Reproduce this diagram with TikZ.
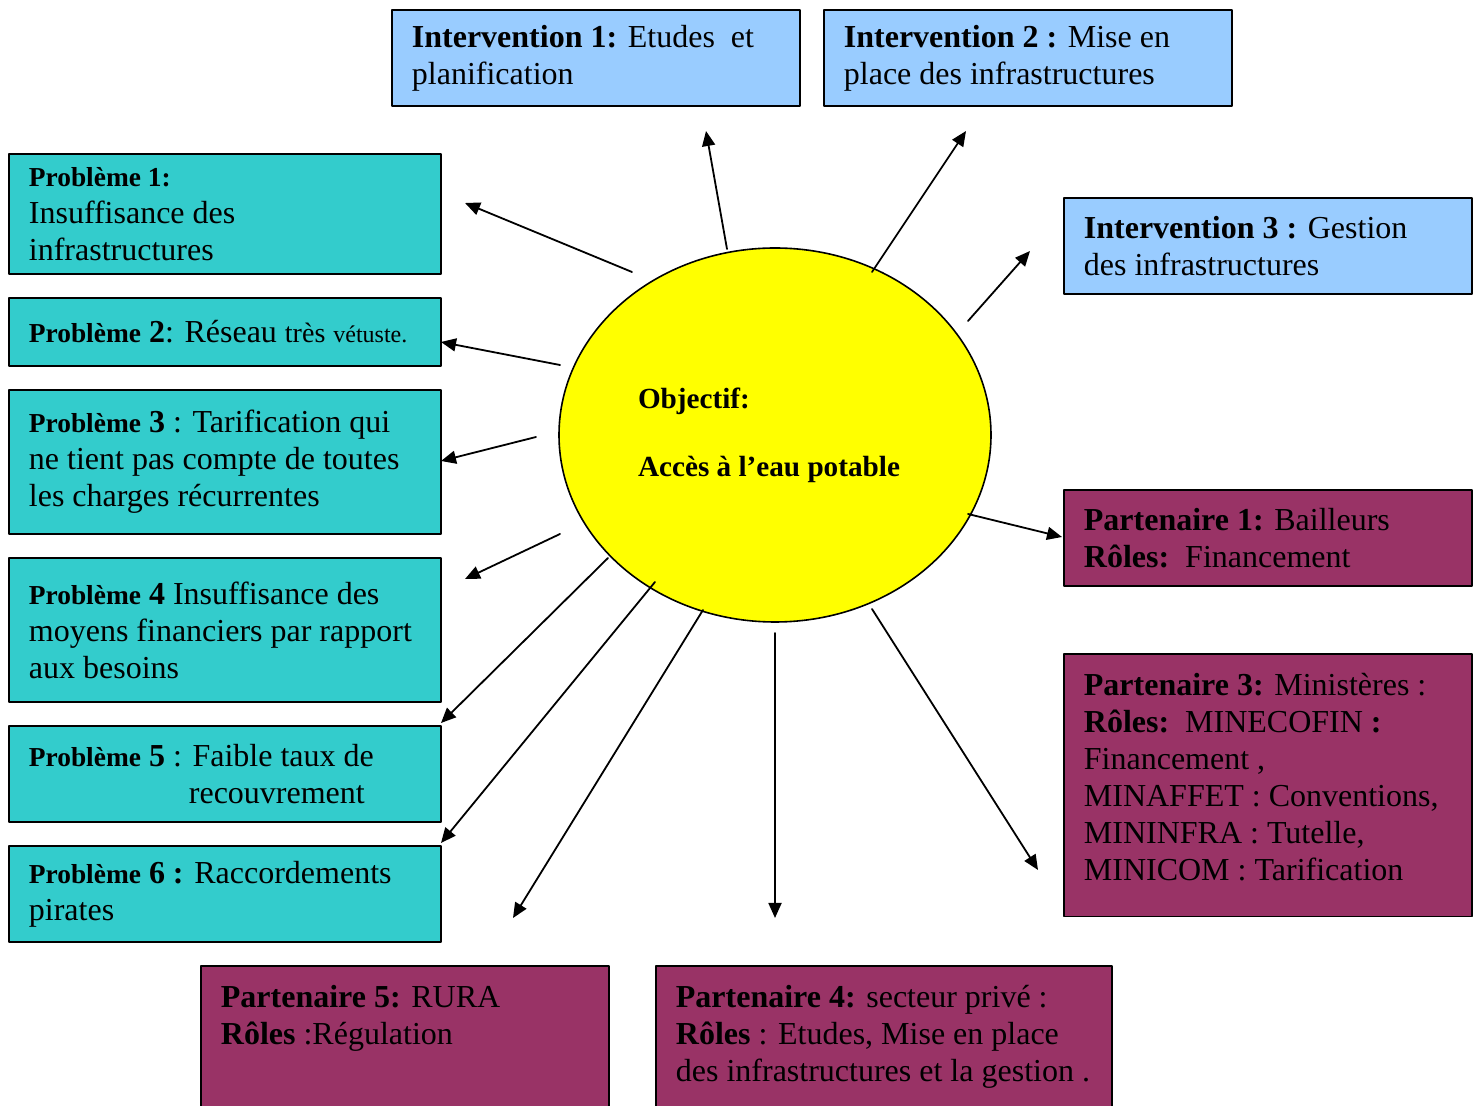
\documentclass[tikz,border=0pt]{standalone}
\usepackage{fontspec}
\setmainfont{Liberation Serif}
\usetikzlibrary{arrows.meta}
\usetikzlibrary{shapes.geometric}
\definecolor{probcol}{HTML}{33CCCC}
\definecolor{intcol}{HTML}{99CCFF}
\definecolor{partcol}{HTML}{993366}
\definecolor{objcol}{HTML}{FFFF00}
\newcommand{\txtsize}{\fontsize{16}{18.5}\selectfont}
\newcommand{\lblsize}{\fontsize{13.7}{18.5}\selectfont}
\newcommand{\pb}[1]{{\lblsize\bfseries Problème} {\bfseries #1}}
\tikzset{>={Triangle[length=7.5pt,width=6.5pt]}}
\tikzset{
  box/.style={draw, line width=0.9pt, anchor=north west, align=flush left, inner xsep=10pt, inner ysep=0pt, font=\txtsize},
  probbox/.style={box, fill=probcol, text width=196pt},
  intbox/.style={box, fill=intcol, text width=184pt},
  partbox/.style={box, fill=partcol, text width=184pt},
  arr/.style={->, line width=0.9pt}
}

\begin{document}
\begin{tikzpicture}[x=0.5pt, y=-0.5pt, line cap=round, line join=round]

\useasboundingbox (0,0) rectangle (1480,1106);
\clip (0,0) rectangle (1480,1106);

\node[draw, ellipse, fill=objcol, line width=0.8pt, minimum width=216pt, minimum height=187pt] (obj) at (775,435) {};
\node[align=flush left, font=\fontsize{14.6}{18.5}\selectfont\bfseries, xshift=-3pt] (objtxt) at (obj.center) {Objectif:\\[15.5pt]Accès à l’eau potable};

\node[probbox, minimum height=60pt] (p1) at (8,153) {{\lblsize\bfseries Problème 1:}\\Insuffisance des\\infrastructures};
\node[probbox, minimum height=34pt] (p2) at (8,297) {\pb{2}: Réseau {\fontsize{14}{18.5}\selectfont très} {\fontsize{12}{18.5}\selectfont vétuste.}};
\node[probbox, minimum height=72pt] (p3) at (8,389) {\pb{3} : Tarification qui\\ne tient pas compte de toutes\\les charges récurrentes};
\node[probbox, minimum height=72pt] (p4) at (8,557) {\pb{4} Insuffisance des\\moyens financiers par rapport\\aux besoins};
\node[probbox, minimum height=48pt] (p5) at (8,725) {\pb{5} : Faible taux de\\\hspace*{80pt}recouvrement};
\node[probbox, minimum height=48pt] (p6) at (8,845) {\pb{6 :} Raccordements\\pirates};

\node[intbox, minimum height=48pt] (i1) at (391,9) {\textbf{Intervention 1:} Etudes\ \ et\\planification};
\node[intbox, minimum height=48pt] (i2) at (823,9) {\textbf{Intervention 2 :} Mise en\\place des infrastructures};
\node[intbox, minimum height=48pt] (i3) at (1063,197) {\textbf{Intervention 3 :} Gestion\\des infrastructures};

\node[partbox, minimum height=48pt] (pa1) at (1063,489) {\textbf{Partenaire 1:} Bailleurs\\\textbf{Rôles:}\ \ Financement};
\node[partbox, inner ysep=9.6pt, text depth=101pt] (pa3) at (1063,653) {\textbf{Partenaire 3:} Ministères :\\\textbf{Rôles:}\ \ MINECOFIN \textbf{:}\\Financement ,\\MINAFFET : Conventions,\\MININFRA : Tutelle,\\MINICOM : Tarification};
\node[partbox, inner ysep=9.6pt, text depth=100pt] (pa5) at (200,965) {\textbf{Partenaire 5:} RURA\\\textbf{Rôles} :Régulation};
\node[partbox, text width=208pt, inner ysep=9.6pt, text depth=80pt] (pa4) at (655,965) {\textbf{Partenaire 4:} secteur privé :\\\textbf{Rôles} : Etudes, Mise en place\\des infrastructures et la gestion .};

\coordinate (t1) at (632,272);  \coordinate (h1) at (465,203);
\coordinate (t2) at (560,365);  \coordinate (h2) at (441,342);
\coordinate (t3) at (536,437);  \coordinate (h3) at (441,461);
\coordinate (t4) at (560,534);  \coordinate (h4) at (465,579);
\coordinate (t5) at (608,558);  \coordinate (h5) at (441,723);
\coordinate (t6) at (655,582);  \coordinate (h6) at (441,843);
\coordinate (t7) at (703,610);  \coordinate (h7) at (513,918);
\coordinate (t8) at (775,633);  \coordinate (h8) at (775,918);
\coordinate (t9) at (872,609);  \coordinate (h9) at (1038,870);
\coordinate (t10) at (968,514); \coordinate (h10) at (1062,537);
\coordinate (t11) at (968,321); \coordinate (h11) at (1030,251);
\coordinate (t12) at (872,272); \coordinate (h12) at (966,131);
\coordinate (t13) at (727,249); \coordinate (h13) at (706,131);

\draw[arr] (t1) -- (h1);
\draw[arr] (t2) -- (h2);
\draw[arr] (t3) -- (h3);
\draw[arr] (t4) -- (h4);
\draw[arr] (t5) -- (h5);
\draw[arr] (t6) -- (h6);
\draw[arr] (t7) -- (h7);
\draw[arr] (t8) -- (h8);
\draw[arr] (t9) -- (h9);
\draw[arr] (t10) -- (h10);
\draw[arr] (t11) -- (h11);
\draw[arr] (t12) -- (h12);
\draw[arr] (t13) -- (h13);

\end{tikzpicture}
\end{document}
